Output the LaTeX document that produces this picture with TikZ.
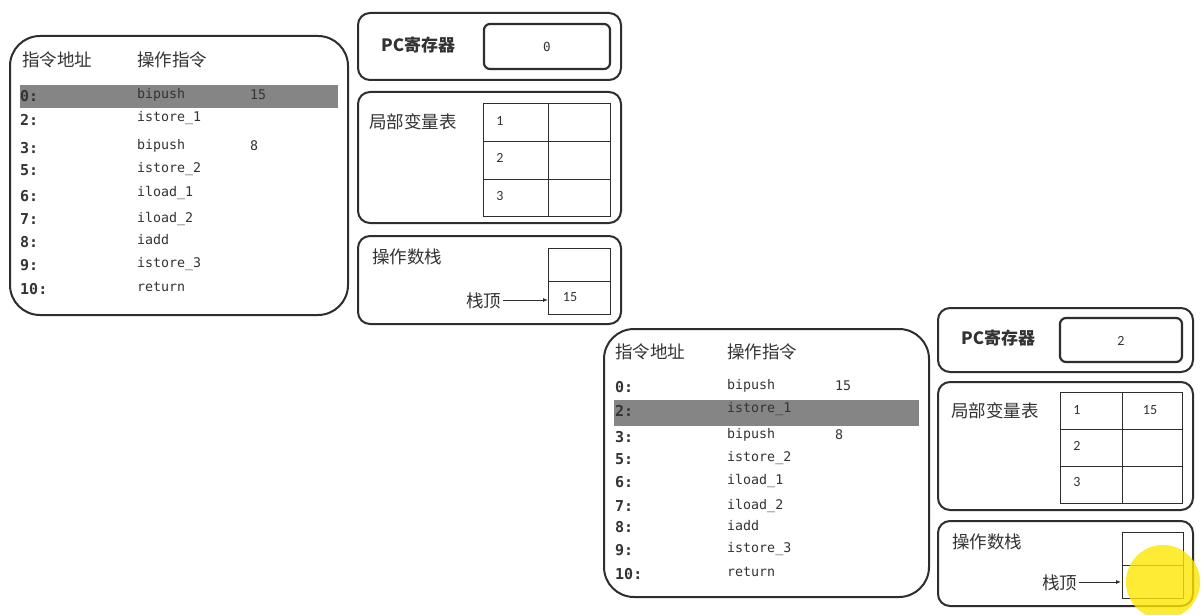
\documentclass[tikz,border=0pt]{standalone}
\usepackage{fontspec}
\setmainfont{Carlito}
\newfontfamily\cjk{Noto Sans CJK SC}
\newfontfamily\monof{DejaVu Sans Mono}
\usetikzlibrary{arrows.meta}
\definecolor{edge}{HTML}{2E2E2E}
\definecolor{txt}{HTML}{333333}
\definecolor{hl}{HTML}{858585}
\tikzset{
  x=1pt,y=-1pt,
  panel/.style={draw=edge,line width=2pt,rounded corners=12pt},
  bigpanel/.style={draw=edge,line width=2pt,rounded corners=30pt},
  pcbox/.style={draw=edge,line width=2.2pt,rounded corners=6pt},
  grid/.style={draw=edge,line width=0.9pt},
  cjklab/.style={inner sep=0pt,anchor=west,text=txt,font=\cjk\fontsize{17.5}{19}\selectfont},
  pclab/.style={inner sep=0pt,anchor=west,text=txt,font=\cjk\bfseries\fontsize{17}{19}\selectfont},
  addr/.style={inner sep=0pt,anchor=west,text=txt,font=\monof\bfseries\fontsize{15}{17}\selectfont},
  ins/.style={inner sep=0pt,anchor=west,text=txt,font=\monof\fontsize{13.3}{15}\selectfont},
  num/.style={inner sep=0pt,text=txt,font=\fontsize{14}{16}\selectfont},
  arr/.style={-{Latex[length=5pt,width=4pt]},line width=0.9pt,draw=edge},
}
\begin{document}
\begin{tikzpicture}
\useasboundingbox[fill=white] (0,0) rectangle (1204,615);

% ===================== first state =====================
\draw[bigpanel] (10,36) rectangle (348,315);
\fill[hl] (20,85) rectangle (338,108);
\node[cjklab] (h1a) at (22,60) {指令地址};
\node[cjklab] (h1b) at (137,60) {操作指令};
\node[addr] (a1r0) at (20,96) {0:};
\node[ins] (i1r0) at (137,95) {bipush};
\node[ins] (o1r0) at (250,95) {15};
\node[addr] (a1r1) at (20,120) {2:};
\node[ins] (i1r1) at (137,118) {istore\_1};
\node[addr] (a1r2) at (20,148) {3:};
\node[ins] (i1r2) at (137,146) {bipush};
\node[ins] (o1r2) at (250,146) {8};
\node[addr] (a1r3) at (20,170) {5:};
\node[ins] (i1r3) at (137,169) {istore\_2};
\node[addr] (a1r4) at (20,196) {6:};
\node[ins] (i1r4) at (137,193) {iload\_1};
\node[addr] (a1r5) at (20,219) {7:};
\node[ins] (i1r5) at (137,219) {iload\_2};
\node[addr] (a1r6) at (20,242) {8:};
\node[ins] (i1r6) at (137,240) {iadd};
\node[addr] (a1r7) at (20,265) {9:};
\node[ins] (i1r7) at (137,264) {istore\_3};
\node[addr] (a1r8) at (20,289) {10:};
\node[ins] (i1r8) at (137,287) {return};

% PC register
\draw[panel] (358,13) rectangle (621,80);
\node[pclab] (pc1l) at (381,45) {PC寄存器};
\draw[pcbox] (484,24) rectangle (610,69);
\node[num,font=\monof\fontsize{12.5}{14}\selectfont] (pc1v) at (547,47) {0};

% local variable table
\draw[panel] (358,92) rectangle (621,223);
\node[cjklab] (lv1l) at (369,122) {局部变量表};
\draw[grid] (483,103) rectangle (610,216);
\draw[grid] (548,103) -- (548,216);
\draw[grid] (483,141) -- (610,141);
\draw[grid] (483,179) -- (610,179);
\node[num] (lv1a) at (500,121) {1};
\node[num] (lv1b) at (500,158) {2};
\node[num] (lv1c) at (500,196) {3};

% operand stack
\draw[panel] (358,236) rectangle (621,324);
\node[cjklab] (os1l) at (372,257) {操作数栈};
\draw[grid] (548,248) rectangle (610,314);
\draw[grid] (548,281) -- (610,281);
\node[num] (os1v) at (570,297) {15};
\node[cjklab] (top1) at (466,301) {栈顶};
\coordinate (top1t) at (548,300);
\draw[arr] (top1.east |- top1t) ++(2,0) -- (top1t);

% ===================== second state =====================
\draw[bigpanel] (604,329) rectangle (929,597);
\fill[hl] (614,400) rectangle (919,426);
\node[cjklab] (h2a) at (615,352) {指令地址};
\node[cjklab] (h2b) at (727,352) {操作指令};
\node[addr] (a2r0) at (615,387) {0:};
\node[ins] (i2r0) at (727,386) {bipush};
\node[ins] (o2r0) at (835,386) {15};
\node[addr] (a2r1) at (615,411) {2:};
\node[ins] (i2r1) at (727,409) {istore\_1};
\node[addr] (a2r2) at (615,437) {3:};
\node[ins] (i2r2) at (727,435) {bipush};
\node[ins] (o2r2) at (835,435) {8};
\node[addr] (a2r3) at (615,459) {5:};
\node[ins] (i2r3) at (727,458) {istore\_2};
\node[addr] (a2r4) at (615,482) {6:};
\node[ins] (i2r4) at (727,481) {iload\_1};
\node[addr] (a2r5) at (615,506) {7:};
\node[ins] (i2r5) at (727,506) {iload\_2};
\node[addr] (a2r6) at (615,527) {8:};
\node[ins] (i2r6) at (727,526) {iadd};
\node[addr] (a2r7) at (615,550) {9:};
\node[ins] (i2r7) at (727,549) {istore\_3};
\node[addr] (a2r8) at (615,574) {10:};
\node[ins] (i2r8) at (727,572) {return};

% PC register
\draw[panel] (938,308) rectangle (1193,372);
\node[pclab] (pc2l) at (961,338) {PC寄存器};
\draw[pcbox] (1060,318) rectangle (1182,362);
\node[num] (pc2v) at (1121,341) {2};

% local variable table
\draw[panel] (938,382) rectangle (1193,510);
\node[cjklab] (lv2l) at (951,411) {局部变量表};
\draw[grid] (1060,392) rectangle (1182,503);
\draw[grid] (1122,392) -- (1122,503);
\draw[grid] (1060,429) -- (1182,429);
\draw[grid] (1060,466) -- (1182,466);
\node[num] (lv2a) at (1077,410) {1};
\node[num] (lv2v) at (1150,410) {15};
\node[num] (lv2b) at (1077,446) {2};
\node[num] (lv2c) at (1077,482) {3};

% operand stack
\draw[panel] (938,521) rectangle (1193,606);
\node[cjklab] (os2l) at (952,542) {操作数栈};
\draw[grid] (1122,532) rectangle (1183,598);
\draw[grid] (1122,565) -- (1183,565);
\node[cjklab] (top2) at (1042,583) {栈顶};
\coordinate (top2t) at (1121,582);
\draw[arr] (top2.east |- top2t) ++(2,0) -- (top2t);

% cursor highlight
\fill[yellow!90!orange,opacity=0.8] (1163,582) circle (37);
\end{tikzpicture}
\end{document}
